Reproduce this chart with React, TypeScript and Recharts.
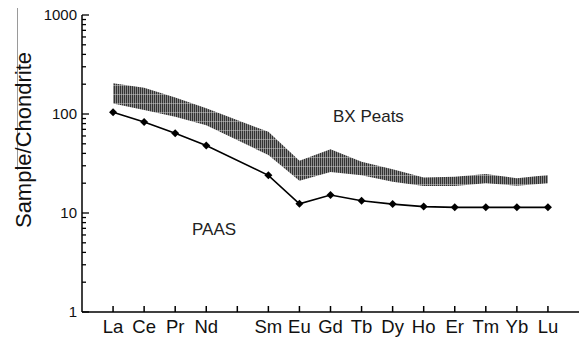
import { Area, ComposedChart, Line, XAxis, YAxis } from "recharts";

// chondrite-normalised REE, Pm has no value so it only keeps its slot on the axis
const elements = ["La", "Ce", "Pr", "Nd", "Pm", "Sm", "Eu", "Gd", "Tb", "Dy", "Ho", "Er", "Tm", "Yb", "Lu"];
const paas = [104, 83, 64, 48, null, 24, 12.4, 15.2, 13.3, 12.3, 11.6, 11.4, 11.4, 11.4, 11.4];
const peatLow = [128, 110, 94, 77, null, 38.5, 21.2, 26, 24, 20.7, 18.7, 18.7, 20, 18.9, 20];
const peatHigh = [204, 184, 147, 114, null, 66, 33.8, 44, 33, 27.6, 22.9, 23.2, 24.8, 22.4, 24.2];
const decadeTicks = [1, 10, 100, 1000];

const FONT = "'Liberation Sans', Arial, sans-serif";

const data = elements
  .map((el, i) => ({
    x: i + 1,
    el,
    paas: paas[i],
    band: peatLow[i] == null ? null : [peatLow[i], peatHigh[i]],
  }))
  .filter((d) => d.paas != null);

// 1..9, 10..90, 100..900, 1000 for the minor tick marks
const yTicks: number[] = [];
decadeTicks.slice(0, -1).forEach((d) => {
  for (let k = 1; k < 10; k++) yTicks.push(d * k);
});
yTicks.push(1000);

function YTick({ x, y, payload }: any) {
  const v = payload.value;
  const major = decadeTicks.includes(v);
  return (
    <g>
      <line x1={x} x2={x + (major ? 7 : 4)} y1={y} y2={y} stroke="#000" strokeWidth={1.3} />
      {major && (
        <text x={x - 5} y={y + 5} textAnchor="end" fontSize={15} fontFamily={FONT} fill="#111">
          {v}
        </text>
      )}
    </g>
  );
}

function XTick({ x, y, payload }: any) {
  const label = elements[payload.value - 1];
  return (
    <g>
      <line x1={x} x2={x} y1={y} y2={y - 6} stroke="#000" strokeWidth={1.5} />
      {label !== "Pm" && (
        <text x={x} y={y + 21} textAnchor="middle" fontSize={18.5} fontFamily={FONT} fill="#111">
          {label}
        </text>
      )}
    </g>
  );
}

function Diamond({ cx, cy, index }: any) {
  if (cx == null || cy == null) return null;
  const r = 4;
  return (
    <polygon
      key={index}
      points={`${cx},${cy - r} ${cx + r},${cy} ${cx},${cy + r} ${cx - r},${cy}`}
      fill="#000"
    />
  );
}

export default function App() {
  return (
    <div style={{ position: "absolute", left: 0, top: 0, width: 582, height: 339, background: "#fff" }}>
      <div style={{ position: "absolute", left: 17, top: 8, width: 1, height: 162, background: "#9a9a9a" }} />
      <ComposedChart width={582} height={339} data={data} margin={{ top: 15, right: 3, bottom: 0, left: 0 }}>
        <defs>
          <pattern id="hatch" width="2" height="9" patternUnits="userSpaceOnUse">
            <rect x="0" y="0" width="2" height="9" fill="#8e8e8e" />
            <rect x="0" y="0" width="1" height="9" fill="#333" />
            <rect x="0" y="4" width="2" height="1" fill="#d8d8d8" opacity="0.45" />
          </pattern>
        </defs>
        <XAxis
          dataKey="x"
          type="number"
          domain={[0, 16]}
          ticks={elements.map((_, i) => i + 1)}
          interval={0}
          height={27}
          tickSize={0}
          tickMargin={0}
          tickLine={false}
          axisLine={{ stroke: "#000", strokeWidth: 1.5 }}
          tick={<XTick />}
        />
        <YAxis
          type="number"
          scale="log"
          domain={[1, 1000]}
          ticks={yTicks}
          interval={0}
          width={82}
          tickSize={0}
          tickMargin={0}
          tickLine={false}
          axisLine={{ stroke: "#000", strokeWidth: 1.5 }}
          tick={<YTick />}
          allowDataOverflow
          label={() => (
            <text
              x={31}
              y={140}
              transform="rotate(-90 31 140)"
              textAnchor="middle"
              fontSize={22}
              fontFamily={FONT}
              fill="#111"
            >
              Sample/Chondrite
            </text>
          )}
        />
        <Area
          dataKey="band"
          type="linear"
          stroke="none"
          fill="url(#hatch)"
          fillOpacity={1}
          dot={false}
          activeDot={false}
          isAnimationActive={false}
        />
        <Line
          dataKey="paas"
          type="linear"
          stroke="#000"
          strokeWidth={1.6}
          dot={<Diamond />}
          activeDot={false}
          isAnimationActive={false}
        />
        <text x={333} y={122} fontSize={17} fontFamily={FONT} fill="#222">
          BX Peats
        </text>
        <text x={192} y={235} fontSize={17} fontFamily={FONT} fill="#222">
          PAAS
        </text>
      </ComposedChart>
    </div>
  );
}
